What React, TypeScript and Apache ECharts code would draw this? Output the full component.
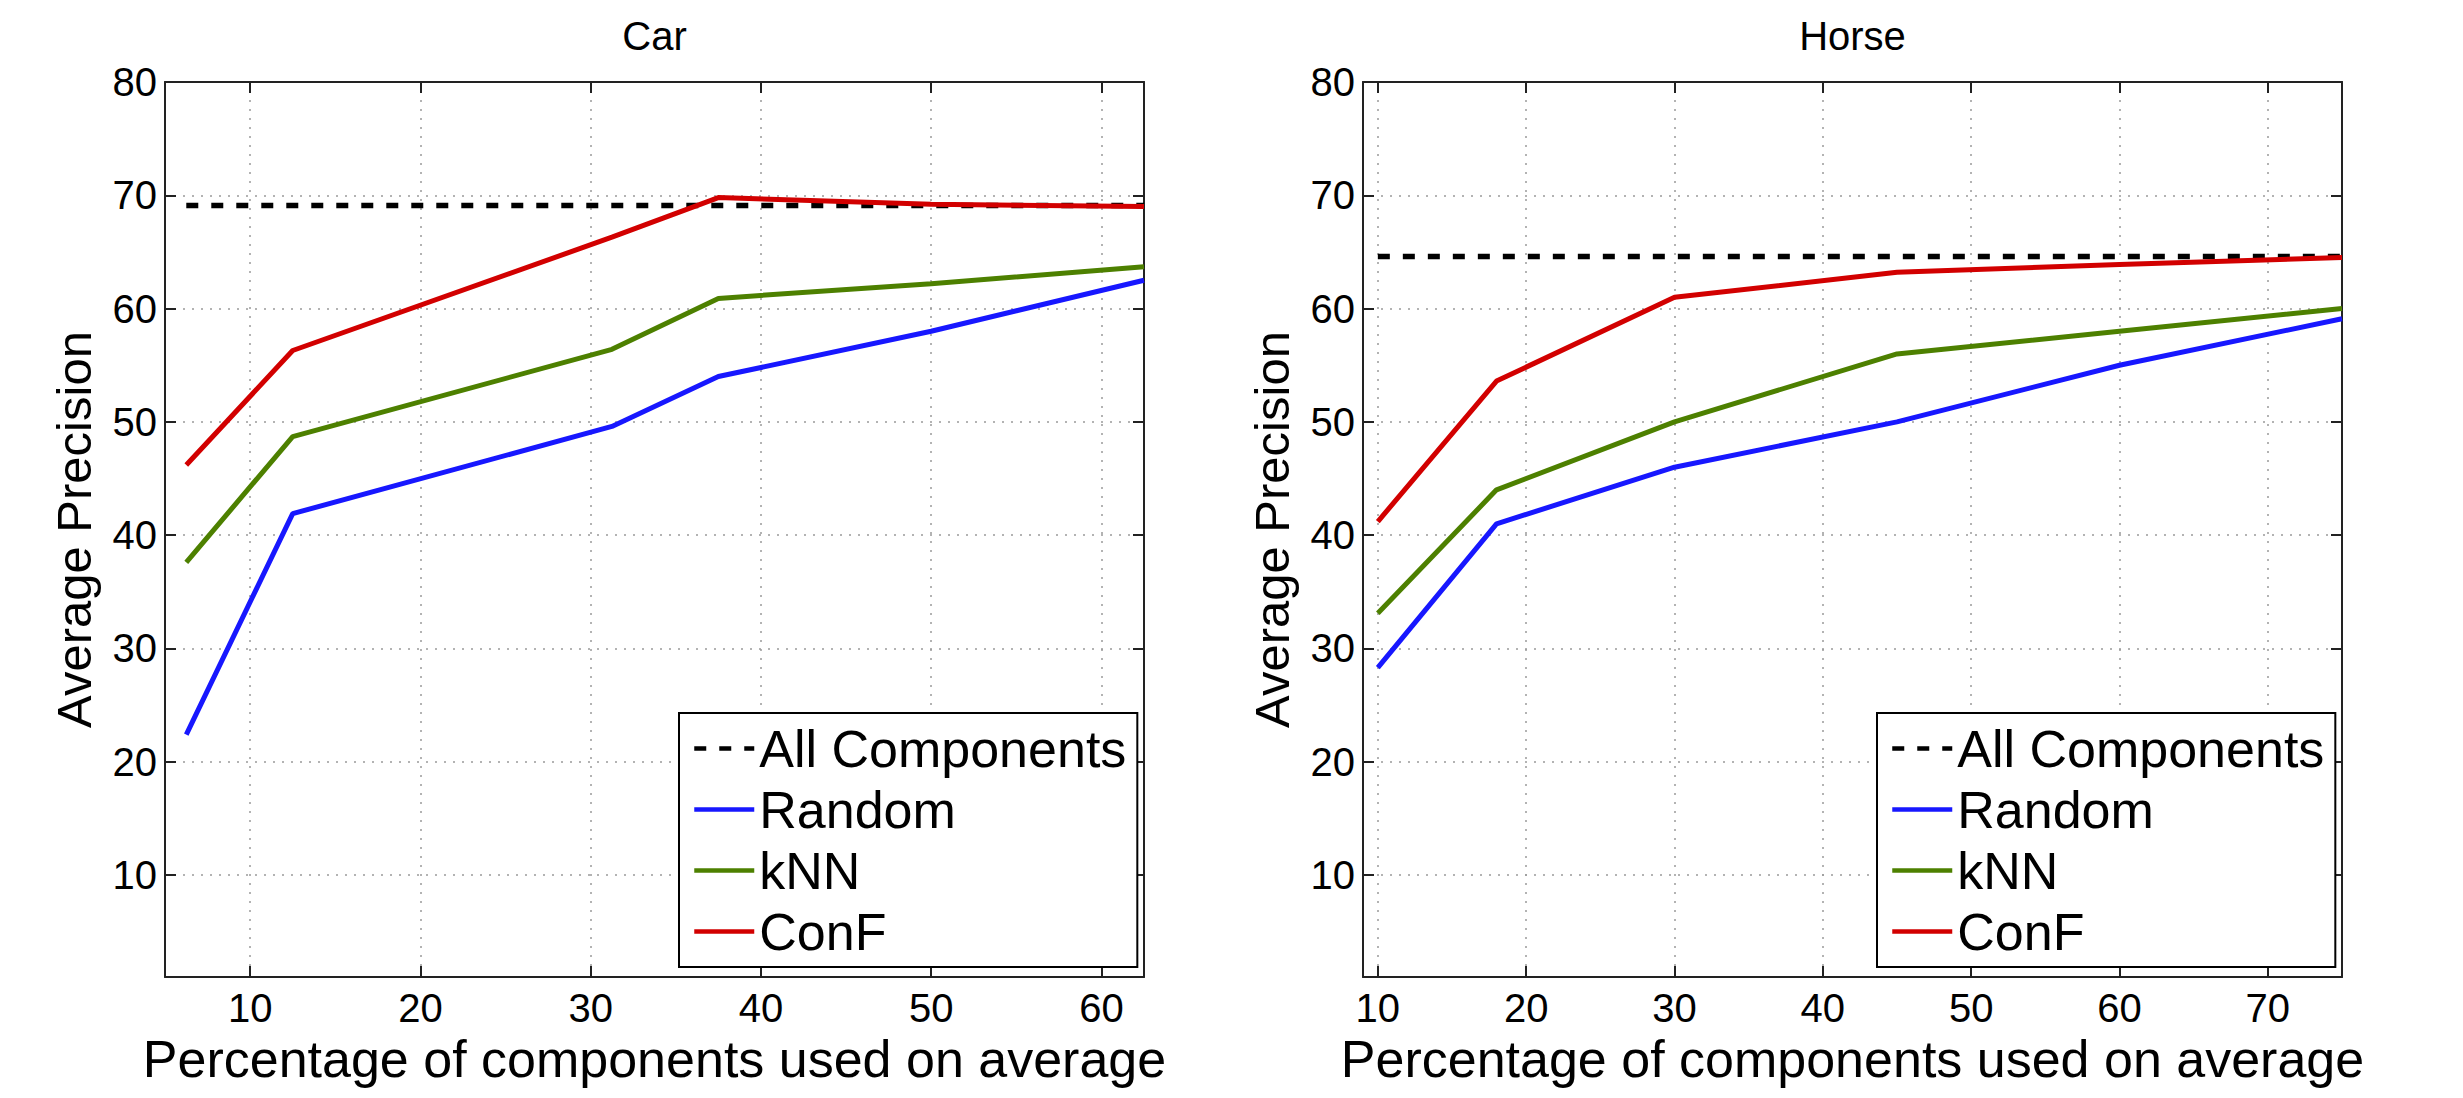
import React, { useEffect, useRef } from "react";
import * as echarts from "echarts";

// ---- data ----
const seriesNames = ["All Components", "Random", "kNN", "ConF"];

const carX = [6.25, 12.5, 31.25, 37.5, 50, 62.5];
const carAll = [69.1, 69.1, 69.1, 69.1, 69.1, 69.1];
const carRandom = [22.4, 41.9, 49.6, 54.0, 58.0, 62.5];
const carKnn = [37.6, 48.7, 56.4, 60.9, 62.2, 63.7];
const carConf = [46.2, 56.3, 66.3, 69.8, 69.2, 69.0];

const horseX = [10, 18, 30, 45, 60, 75];
const horseAll = [64.6, 64.6, 64.6, 64.6, 64.6, 64.6];
const horseRandom = [28.3, 41.0, 46.0, 50.0, 55.0, 59.1];
const horseKnn = [33.1, 44.0, 50.0, 56.0, 58.0, 60.0];
const horseConf = [41.2, 53.6, 61.0, 63.2, 63.9, 64.5];

const panelTitles = ["Car", "Horse"];
const xAxisTitle = "Percentage of components used on average";
const yAxisTitle = "Average Precision";

const FONT = "'Liberation Sans', Arial, Helvetica, sans-serif";
const colors = ["#000000", "#1717ff", "#4d8000", "#d20000"];

const pair = (xs: number[], ys: number[]) => xs.map((x, i) => [x, ys[i]]);

export default function App() {
  const ref = useRef<HTMLDivElement>(null);

  useEffect(() => {
    if (!ref.current) return;
    const chart = echarts.init(ref.current, null, { renderer: "svg" });

    const plotTop = 82;
    const plotH = 895;
    const plotW = 979;
    const lefts = [165, 1363];

    const axisColor = "#222";
    const grids = lefts.map((l) => ({
      left: l,
      top: plotTop,
      width: plotW,
      height: plotH,
      containLabel: false,
      outerBoundsMode: "none",
    }));

    const xRanges = [
      [5, 62.5],
      [9, 75],
    ];

    const xAxes: any[] = [];
    const yAxes: any[] = [];
    [0, 1].forEach((g) => {
      const [mn, mx] = xRanges[g];
      xAxes.push({
        type: "value",
        gridIndex: g,
        position: "bottom",
        min: mn,
        max: mx,
        minInterval: 10,
        maxInterval: 10,
        axisLine: { show: true, onZero: false, lineStyle: { color: axisColor, width: 2 } },
        axisTick: { show: true, inside: true, length: 11, lineStyle: { color: axisColor, width: 2 } },
        axisLabel: {
          show: true,
          margin: 11,
          fontSize: 40,
          color: "#000",
          fontFamily: FONT,
          showMinLabel: false,
          showMaxLabel: false,
        },
        splitLine: { show: true, lineStyle: { color: "#9a9a9a", width: 1.5, type: [2, 7] } },
        name: xAxisTitle,
        nameLocation: "middle",
        nameGap: 50,
        nameTextStyle: { fontSize: 52, color: "#000", fontFamily: FONT },
      });
      xAxes.push({
        type: "value",
        gridIndex: g,
        position: "top",
        min: mn,
        max: mx,
        minInterval: 10,
        maxInterval: 10,
        axisLine: { show: true, onZero: false, lineStyle: { color: axisColor, width: 2 } },
        axisTick: { show: true, inside: true, length: 11, lineStyle: { color: axisColor, width: 2 } },
        axisLabel: { show: false },
        splitLine: { show: false },
      });
      yAxes.push({
        type: "value",
        gridIndex: g,
        position: "left",
        min: 1,
        max: 80,
        minInterval: 10,
        maxInterval: 10,
        axisLine: { show: true, onZero: false, lineStyle: { color: axisColor, width: 2 } },
        axisTick: { show: true, inside: true, length: 11, lineStyle: { color: axisColor, width: 2 } },
        axisLabel: {
          show: true,
          margin: 8,
          fontSize: 40,
          color: "#000",
          fontFamily: FONT,
          showMinLabel: false,
          showMaxLabel: true,
        },
        splitLine: { show: true, lineStyle: { color: "#9a9a9a", width: 1.5, type: [2, 7] } },
        name: yAxisTitle,
        nameLocation: "middle",
        nameGap: 67,
        nameTextStyle: { fontSize: 49, color: "#000", fontFamily: FONT },
      });
      yAxes.push({
        type: "value",
        gridIndex: g,
        position: "right",
        min: 1,
        max: 80,
        minInterval: 10,
        maxInterval: 10,
        axisLine: { show: true, onZero: false, lineStyle: { color: axisColor, width: 2 } },
        axisTick: { show: true, inside: true, length: 11, lineStyle: { color: axisColor, width: 2 } },
        axisLabel: { show: false },
        splitLine: { show: false },
      });
    });

    const panels = [
      { x: carX, ys: [carAll, carRandom, carKnn, carConf] },
      { x: horseX, ys: [horseAll, horseRandom, horseKnn, horseConf] },
    ];

    const series: any[] = [];
    panels.forEach((p, g) => {
      p.ys.forEach((ys, i) => {
        const dashed = i === 0;
        series.push({
          type: "line",
          name: seriesNames[i],
          xAxisIndex: g * 2,
          yAxisIndex: g * 2,
          data: pair(p.x, ys),
          symbol: "none",
          showSymbol: false,
          z: 2 + i,
          itemStyle: { color: colors[i] },
          lineStyle: {
            color: colors[i],
            width: dashed ? 5.5 : 5,
            type: dashed ? [12, 13] : "solid",
          },
        });
      });
    });

    const legendLefts = [679, 1877];
    const legends = legendLefts.map((l) => ({
      show: true,
      orient: "vertical",
      left: l,
      top: 713,
      data: seriesNames,
      itemWidth: 60,
      itemHeight: 20,
      itemGap: 0,
      padding: [5, 11, 5, 13],
      backgroundColor: "#fff",
      borderColor: "#000",
      borderWidth: 2,
      borderRadius: 0,
      selectedMode: false,
      itemStyle: { opacity: 0, borderWidth: 0 },
      lineStyle: { width: 4.5 },
      textStyle: { fontSize: 52, lineHeight: 61, color: "#000", fontFamily: FONT },
    }));

    const centers = lefts.map((l) => l + plotW / 2);
    const graphic = panelTitles.map((t, i) => ({
      type: "text",
      x: centers[i],
      y: 36,
      style: {
        text: t,
        fontSize: 40,
        fontFamily: FONT,
        fill: "#000",
        textAlign: "center",
        textVerticalAlign: "middle",
      },
    }));

    chart.setOption({
      animation: false,
      backgroundColor: "#fff",
      textStyle: { fontFamily: FONT },
      grid: grids,
      xAxis: xAxes,
      yAxis: yAxes,
      legend: legends,
      series,
      graphic,
    });

    return () => chart.dispose();
  }, []);

  return (
    <div
      ref={ref}
      style={{ position: "absolute", left: 0, top: 0, width: 2463, height: 1098 }}
    />
  );
}
